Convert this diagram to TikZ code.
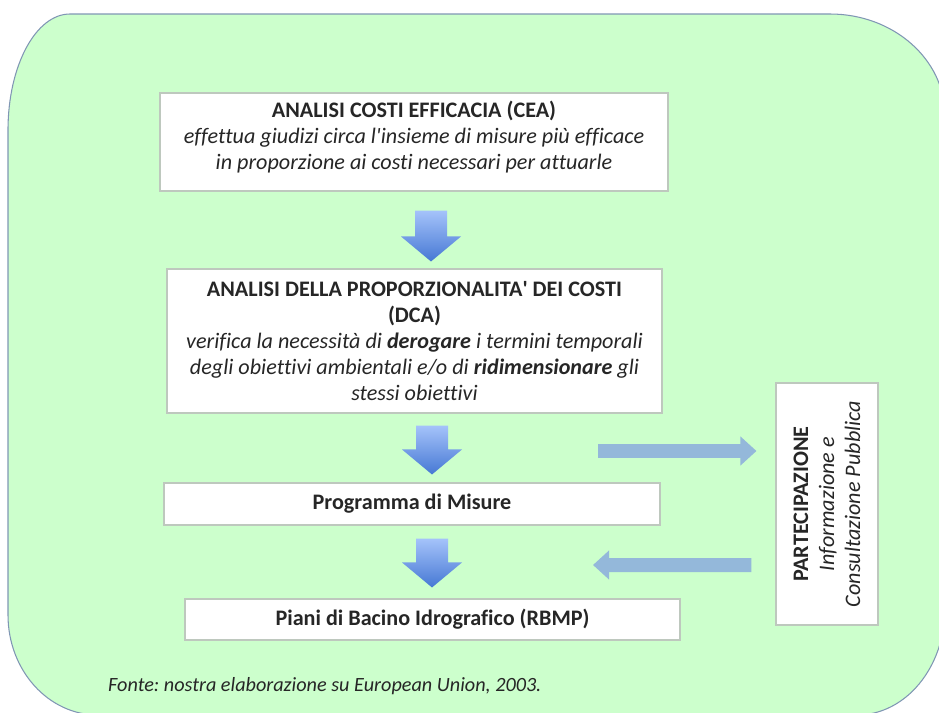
\documentclass[tikz,border=0pt]{standalone}
\usepackage{fontspec}
\setmainfont{Carlito}[Ligatures=NoCommon]
\usepackage{tikz}
\usetikzlibrary{positioning}
\usetikzlibrary{calc}
\usetikzlibrary{arrows.meta}
\definecolor{bggreen}{RGB}{204,255,204}
\definecolor{bgline}{RGB}{128,150,180}
\definecolor{boxline}{RGB}{190,200,190}
\definecolor{arrtop}{RGB}{165,195,250}
\definecolor{arrbot}{RGB}{70,120,212}
\definecolor{flowcol}{RGB}{148,184,218}
\colorlet{txt}{black!85}
\tikzstyle{box}=[draw=boxline,fill=white,line width=0.6pt,align=center,inner sep=0pt,text=txt,
  font=\fontsize{12.6}{14.8}\selectfont]
\tikzstyle{flow}=[-{Triangle[length=0.32cm,width=0.56cm]},flowcol,line width=0.28cm]

% shaded block arrow: top point, tip point (same x)
\newcommand{\downblk}[2]{%
  \shade[top color=arrtop,bottom color=arrbot]
    ($(#1)+(-0.32,0)$) -- ($(#2)+(-0.32,0.5)$) -- ($(#2)+(-0.6,0.5)$) -- (#2)
    -- ($(#2)+(0.6,0.5)$) -- ($(#2)+(0.32,0.5)$) -- ($(#1)+(0.32,0)$) -- cycle;}

\begin{document}
\frenchspacing
\begin{tikzpicture}

\useasboundingbox (0,0) rectangle (18.78,-14.26);
\clip (0,0) rectangle (18.78,-14.26);

% Background frame
\draw[fill=bggreen,draw=bgline,line width=0.6pt]
  (0.16,-2.6) arc[start angle=180,end angle=90,x radius=1.24,y radius=2.32]
  -- (16.6,-0.28) arc[start angle=90,end angle=0,x radius=2.3,y radius=2.03]
  -- (18.9,-12.17) arc[start angle=0,end angle=-90,x radius=1.76,y radius=2.13]
  -- (1.96,-14.3) arc[start angle=270,end angle=180,x radius=1.8,y radius=2.0]
  -- cycle;

% Boxes
\node[box,minimum width=10.16cm,minimum height=1.96cm] (cea) at (8.28,-2.84)
  {\textbf{ANALISI COSTI EFFICACIA (CEA)}\\
   \textit{effettua giudizi circa l\textquotesingle insieme di misure più efficace}\\
   \textit{in proporzione ai costi necessari per attuarle}\\[-7pt]};

\node[box,minimum width=9.9cm,minimum height=2.88cm] (dca) at (8.29,-6.82)
  {\textbf{ANALISI DELLA PROPORZIONALITA\textquotesingle{} DEI COSTI}\\
   \textbf{(DCA)}\\
   \textit{verifica la necessità di \textbf{derogare} i termini temporali}\\
   \textit{degli obiettivi ambientali e/o di \textbf{ridimensionare} gli}\\
   \textit{stessi obiettivi}};

\node[box,minimum width=9.92cm,minimum height=0.84cm] (prog) at (8.24,-10.08)
  {\textbf{Programma di Misure}};

\node[box,minimum width=9.9cm,minimum height=0.82cm] (rbmp) at (8.65,-12.39)
  {\textbf{Piani di Bacino Idrografico (RBMP)}};

\node[box,rotate=90,minimum width=4.84cm,minimum height=2.04cm] (part) at (16.54,-10.08)
  {\textbf{PARTECIPAZIONE}\\
   \textit{Informazione e}\\
   \textit{Consultazione Pubblica}};

% Block arrows
\coordinate (a1s) at ($(cea.south)+(0.34,-0.38)$);
\coordinate (a1e) at ($(dca.north)+(0.33,0.14)$);
\coordinate (a2s) at ($(dca.south)+(0.35,-0.24)$);
\coordinate (a2e) at ($(prog.north)+(0.4,0.16)$);
\coordinate (a3s) at ($(prog.south)+(0.4,-0.26)$);
\coordinate (a3e) at ($(rbmp.north)+(-0.01,0.22)$);
\downblk{a1s}{a1e}
\downblk{a2s}{a2e}
\downblk{a3s}{a3e}

% Participation flows (part is turned: its north side faces left)
\coordinate (p1s) at (11.96,-9.02);
\coordinate (p1e) at ($(part.north)+(-0.38,1.06)$);
\coordinate (p2s) at ($(part.north)+(-0.48,-1.22)$);
\coordinate (p2e) at (11.86,-11.30);
\draw[flow] (p1s) -- (p1e);
\draw[flow] (p2s) -- (p2e);

% Source
\node[anchor=west,text=txt,font=\fontsize{11.5}{14}\selectfont\itshape] (src) at (2.04,-13.72)
  {Fonte: nostra elaborazione su European Union, 2003.};

\end{tikzpicture}
\end{document}
